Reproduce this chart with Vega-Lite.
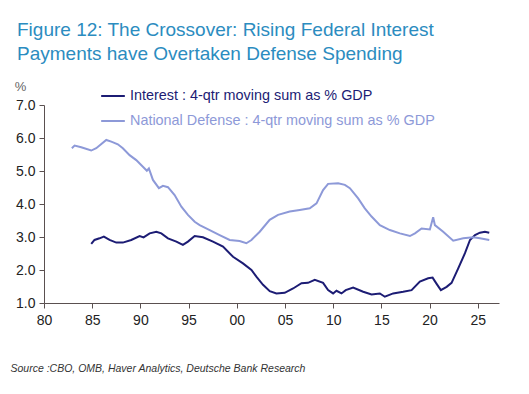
{
  "$schema": "https://vega.github.io/schema/vega-lite/v6.json",
  "width": 455,
  "height": 198,
  "autosize": "none",
  "padding": {"left": 44, "top": 105, "right": 30, "bottom": 91},
  "background": "white",
  "title": {
    "text": ["Figure 12: The Crossover: Rising Federal Interest", "Payments have Overtaken Defense Spending"],
    "anchor": "start",
    "frame": "group",
    "orient": "top",
    "baseline": "top",
    "offset": 16,
    "dx": -27,
    "lineHeight": 24,
    "font": "Liberation Sans",
    "fontSize": 19,
    "fontWeight": "normal",
    "color": "#2b8cc0"
  },
  "config": {
    "view": {"stroke": null},
    "font": "Liberation Sans"
  },
  "data": {
    "values": [
      {"series": "Interest : 4-qtr moving sum as % GDP", "year": 1984.9, "value": 2.79},
      {"series": "Interest : 4-qtr moving sum as % GDP", "year": 1985.24, "value": 2.91},
      {"series": "Interest : 4-qtr moving sum as % GDP", "year": 1985.76, "value": 2.96},
      {"series": "Interest : 4-qtr moving sum as % GDP", "year": 1986.21, "value": 3.01},
      {"series": "Interest : 4-qtr moving sum as % GDP", "year": 1986.8, "value": 2.91},
      {"series": "Interest : 4-qtr moving sum as % GDP", "year": 1987.5, "value": 2.83},
      {"series": "Interest : 4-qtr moving sum as % GDP", "year": 1988.18, "value": 2.83},
      {"series": "Interest : 4-qtr moving sum as % GDP", "year": 1989.05, "value": 2.91},
      {"series": "Interest : 4-qtr moving sum as % GDP", "year": 1989.92, "value": 3.03},
      {"series": "Interest : 4-qtr moving sum as % GDP", "year": 1990.33, "value": 2.99},
      {"series": "Interest : 4-qtr moving sum as % GDP", "year": 1990.96, "value": 3.11},
      {"series": "Interest : 4-qtr moving sum as % GDP", "year": 1991.65, "value": 3.16},
      {"series": "Interest : 4-qtr moving sum as % GDP", "year": 1992.17, "value": 3.11},
      {"series": "Interest : 4-qtr moving sum as % GDP", "year": 1992.86, "value": 2.96},
      {"series": "Interest : 4-qtr moving sum as % GDP", "year": 1993.73, "value": 2.86},
      {"series": "Interest : 4-qtr moving sum as % GDP", "year": 1994.41, "value": 2.76},
      {"series": "Interest : 4-qtr moving sum as % GDP", "year": 1994.93, "value": 2.86},
      {"series": "Interest : 4-qtr moving sum as % GDP", "year": 1995.63, "value": 3.03},
      {"series": "Interest : 4-qtr moving sum as % GDP", "year": 1996.49, "value": 2.99},
      {"series": "Interest : 4-qtr moving sum as % GDP", "year": 1997.53, "value": 2.86},
      {"series": "Interest : 4-qtr moving sum as % GDP", "year": 1998.57, "value": 2.71},
      {"series": "Interest : 4-qtr moving sum as % GDP", "year": 1999.61, "value": 2.4},
      {"series": "Interest : 4-qtr moving sum as % GDP", "year": 2000.64, "value": 2.2},
      {"series": "Interest : 4-qtr moving sum as % GDP", "year": 2001.52, "value": 2.0},
      {"series": "Interest : 4-qtr moving sum as % GDP", "year": 2002.03, "value": 1.8},
      {"series": "Interest : 4-qtr moving sum as % GDP", "year": 2002.72, "value": 1.55},
      {"series": "Interest : 4-qtr moving sum as % GDP", "year": 2003.42, "value": 1.36},
      {"series": "Interest : 4-qtr moving sum as % GDP", "year": 2004.11, "value": 1.29},
      {"series": "Interest : 4-qtr moving sum as % GDP", "year": 2004.97, "value": 1.31},
      {"series": "Interest : 4-qtr moving sum as % GDP", "year": 2005.84, "value": 1.44},
      {"series": "Interest : 4-qtr moving sum as % GDP", "year": 2006.71, "value": 1.6},
      {"series": "Interest : 4-qtr moving sum as % GDP", "year": 2007.39, "value": 1.61},
      {"series": "Interest : 4-qtr moving sum as % GDP", "year": 2008.09, "value": 1.7},
      {"series": "Interest : 4-qtr moving sum as % GDP", "year": 2008.95, "value": 1.61},
      {"series": "Interest : 4-qtr moving sum as % GDP", "year": 2009.47, "value": 1.39},
      {"series": "Interest : 4-qtr moving sum as % GDP", "year": 2009.99, "value": 1.29},
      {"series": "Interest : 4-qtr moving sum as % GDP", "year": 2010.34, "value": 1.37},
      {"series": "Interest : 4-qtr moving sum as % GDP", "year": 2010.86, "value": 1.29},
      {"series": "Interest : 4-qtr moving sum as % GDP", "year": 2011.3, "value": 1.39},
      {"series": "Interest : 4-qtr moving sum as % GDP", "year": 2012.07, "value": 1.47},
      {"series": "Interest : 4-qtr moving sum as % GDP", "year": 2013.11, "value": 1.34},
      {"series": "Interest : 4-qtr moving sum as % GDP", "year": 2013.98, "value": 1.26},
      {"series": "Interest : 4-qtr moving sum as % GDP", "year": 2014.84, "value": 1.29},
      {"series": "Interest : 4-qtr moving sum as % GDP", "year": 2015.36, "value": 1.19},
      {"series": "Interest : 4-qtr moving sum as % GDP", "year": 2016.22, "value": 1.29},
      {"series": "Interest : 4-qtr moving sum as % GDP", "year": 2017.26, "value": 1.34},
      {"series": "Interest : 4-qtr moving sum as % GDP", "year": 2018.13, "value": 1.39},
      {"series": "Interest : 4-qtr moving sum as % GDP", "year": 2018.99, "value": 1.65},
      {"series": "Interest : 4-qtr moving sum as % GDP", "year": 2019.85, "value": 1.75},
      {"series": "Interest : 4-qtr moving sum as % GDP", "year": 2020.31, "value": 1.77},
      {"series": "Interest : 4-qtr moving sum as % GDP", "year": 2020.73, "value": 1.58},
      {"series": "Interest : 4-qtr moving sum as % GDP", "year": 2021.17, "value": 1.39},
      {"series": "Interest : 4-qtr moving sum as % GDP", "year": 2021.77, "value": 1.49},
      {"series": "Interest : 4-qtr moving sum as % GDP", "year": 2022.28, "value": 1.61},
      {"series": "Interest : 4-qtr moving sum as % GDP", "year": 2022.97, "value": 2.05},
      {"series": "Interest : 4-qtr moving sum as % GDP", "year": 2023.67, "value": 2.51},
      {"series": "Interest : 4-qtr moving sum as % GDP", "year": 2024.19, "value": 2.91},
      {"series": "Interest : 4-qtr moving sum as % GDP", "year": 2024.71, "value": 3.06},
      {"series": "Interest : 4-qtr moving sum as % GDP", "year": 2025.22, "value": 3.13},
      {"series": "Interest : 4-qtr moving sum as % GDP", "year": 2025.74, "value": 3.16},
      {"series": "Interest : 4-qtr moving sum as % GDP", "year": 2026.19, "value": 3.13},
      {"series": "National Defense : 4-qtr moving sum as % GDP", "year": 1982.89, "value": 5.69},
      {"series": "National Defense : 4-qtr moving sum as % GDP", "year": 1983.17, "value": 5.77},
      {"series": "National Defense : 4-qtr moving sum as % GDP", "year": 1983.86, "value": 5.72},
      {"series": "National Defense : 4-qtr moving sum as % GDP", "year": 1984.9, "value": 5.62},
      {"series": "National Defense : 4-qtr moving sum as % GDP", "year": 1985.42, "value": 5.69},
      {"series": "National Defense : 4-qtr moving sum as % GDP", "year": 1986.46, "value": 5.94},
      {"series": "National Defense : 4-qtr moving sum as % GDP", "year": 1986.98, "value": 5.89},
      {"series": "National Defense : 4-qtr moving sum as % GDP", "year": 1987.66, "value": 5.81},
      {"series": "National Defense : 4-qtr moving sum as % GDP", "year": 1988.18, "value": 5.69},
      {"series": "National Defense : 4-qtr moving sum as % GDP", "year": 1988.88, "value": 5.48},
      {"series": "National Defense : 4-qtr moving sum as % GDP", "year": 1989.57, "value": 5.33},
      {"series": "National Defense : 4-qtr moving sum as % GDP", "year": 1990.26, "value": 5.13},
      {"series": "National Defense : 4-qtr moving sum as % GDP", "year": 1990.67, "value": 5.01},
      {"series": "National Defense : 4-qtr moving sum as % GDP", "year": 1990.88, "value": 5.08},
      {"series": "National Defense : 4-qtr moving sum as % GDP", "year": 1991.3, "value": 4.73},
      {"series": "National Defense : 4-qtr moving sum as % GDP", "year": 1991.92, "value": 4.48},
      {"series": "National Defense : 4-qtr moving sum as % GDP", "year": 1992.34, "value": 4.55},
      {"series": "National Defense : 4-qtr moving sum as % GDP", "year": 1992.86, "value": 4.51},
      {"series": "National Defense : 4-qtr moving sum as % GDP", "year": 1993.55, "value": 4.27},
      {"series": "National Defense : 4-qtr moving sum as % GDP", "year": 1994.25, "value": 3.92},
      {"series": "National Defense : 4-qtr moving sum as % GDP", "year": 1994.93, "value": 3.67},
      {"series": "National Defense : 4-qtr moving sum as % GDP", "year": 1995.63, "value": 3.46},
      {"series": "National Defense : 4-qtr moving sum as % GDP", "year": 1996.15, "value": 3.36},
      {"series": "National Defense : 4-qtr moving sum as % GDP", "year": 1997.19, "value": 3.21},
      {"series": "National Defense : 4-qtr moving sum as % GDP", "year": 1998.22, "value": 3.06},
      {"series": "National Defense : 4-qtr moving sum as % GDP", "year": 1999.26, "value": 2.91},
      {"series": "National Defense : 4-qtr moving sum as % GDP", "year": 2000.29, "value": 2.88},
      {"series": "National Defense : 4-qtr moving sum as % GDP", "year": 2000.99, "value": 2.81},
      {"series": "National Defense : 4-qtr moving sum as % GDP", "year": 2001.52, "value": 2.91},
      {"series": "National Defense : 4-qtr moving sum as % GDP", "year": 2002.38, "value": 3.16},
      {"series": "National Defense : 4-qtr moving sum as % GDP", "year": 2003.41, "value": 3.52},
      {"series": "National Defense : 4-qtr moving sum as % GDP", "year": 2004.28, "value": 3.67},
      {"series": "National Defense : 4-qtr moving sum as % GDP", "year": 2005.49, "value": 3.77},
      {"series": "National Defense : 4-qtr moving sum as % GDP", "year": 2006.53, "value": 3.82},
      {"series": "National Defense : 4-qtr moving sum as % GDP", "year": 2007.57, "value": 3.87},
      {"series": "National Defense : 4-qtr moving sum as % GDP", "year": 2008.27, "value": 4.02},
      {"series": "National Defense : 4-qtr moving sum as % GDP", "year": 2008.95, "value": 4.42},
      {"series": "National Defense : 4-qtr moving sum as % GDP", "year": 2009.47, "value": 4.61},
      {"series": "National Defense : 4-qtr moving sum as % GDP", "year": 2010.51, "value": 4.63},
      {"series": "National Defense : 4-qtr moving sum as % GDP", "year": 2011.21, "value": 4.58},
      {"series": "National Defense : 4-qtr moving sum as % GDP", "year": 2011.73, "value": 4.48},
      {"series": "National Defense : 4-qtr moving sum as % GDP", "year": 2012.59, "value": 4.17},
      {"series": "National Defense : 4-qtr moving sum as % GDP", "year": 2013.28, "value": 3.87},
      {"series": "National Defense : 4-qtr moving sum as % GDP", "year": 2013.98, "value": 3.62},
      {"series": "National Defense : 4-qtr moving sum as % GDP", "year": 2014.84, "value": 3.36},
      {"series": "National Defense : 4-qtr moving sum as % GDP", "year": 2015.88, "value": 3.21},
      {"series": "National Defense : 4-qtr moving sum as % GDP", "year": 2016.92, "value": 3.11},
      {"series": "National Defense : 4-qtr moving sum as % GDP", "year": 2017.96, "value": 3.03},
      {"series": "National Defense : 4-qtr moving sum as % GDP", "year": 2018.48, "value": 3.11},
      {"series": "National Defense : 4-qtr moving sum as % GDP", "year": 2019.17, "value": 3.26},
      {"series": "National Defense : 4-qtr moving sum as % GDP", "year": 2020.03, "value": 3.23},
      {"series": "National Defense : 4-qtr moving sum as % GDP", "year": 2020.37, "value": 3.6},
      {"series": "National Defense : 4-qtr moving sum as % GDP", "year": 2020.55, "value": 3.36},
      {"series": "National Defense : 4-qtr moving sum as % GDP", "year": 2021.41, "value": 3.16},
      {"series": "National Defense : 4-qtr moving sum as % GDP", "year": 2022.45, "value": 2.89},
      {"series": "National Defense : 4-qtr moving sum as % GDP", "year": 2023.49, "value": 2.96},
      {"series": "National Defense : 4-qtr moving sum as % GDP", "year": 2024.53, "value": 2.99},
      {"series": "National Defense : 4-qtr moving sum as % GDP", "year": 2025.22, "value": 2.96},
      {"series": "National Defense : 4-qtr moving sum as % GDP", "year": 2026.19, "value": 2.91}
    ]
  },
  "mark": {"type": "line", "strokeWidth": 2, "clip": true},
  "encoding": {
    "x": {
      "field": "year",
      "type": "quantitative",
      "scale": {"domain": [1980, 2027.2], "nice": false, "zero": false},
      "axis": {
        "values": [1980, 1985, 1990, 1995, 2000, 2005, 2010, 2015, 2020, 2025],
        "labelExpr": "format(datum.value % 100, '02d')",
        "grid": false,
        "domainColor": "#5a5050",
        "tickColor": "#5a5050",
        "tickSize": 5,
        "labelFontSize": 14,
        "labelColor": "#222",
        "labelPadding": 5,
        "labelFlush": false,
        "title": "Source :CBO, OMB, Haver Analytics, Deutsche Bank Research",
        "titleX": -34,
        "titleY": 68,
        "titleAlign": "left",
        "titleBaseline": "alphabetic",
        "titleFontStyle": "italic",
        "titleFontWeight": "normal",
        "titleFontSize": 10.5,
        "titleColor": "#333"
      }
    },
    "y": {
      "field": "value",
      "type": "quantitative",
      "scale": {"domain": [1, 7], "nice": false, "zero": false},
      "axis": {
        "values": [1, 2, 3, 4, 5, 6, 7],
        "format": ".1f",
        "grid": false,
        "domainColor": "#5a5050",
        "tickColor": "#5a5050",
        "tickSize": 5,
        "labelFontSize": 14,
        "labelColor": "#222",
        "labelPadding": 4,
        "labelFlush": false,
        "title": "%",
        "titleAngle": 0,
        "titleX": -24,
        "titleY": -19,
        "titleAlign": "center",
        "titleBaseline": "middle",
        "titleFontWeight": "normal",
        "titleFontSize": 13,
        "titleColor": "#666"
      }
    },
    "color": {
      "field": "series",
      "type": "nominal",
      "scale": {
        "domain": ["Interest : 4-qtr moving sum as % GDP", "National Defense : 4-qtr moving sum as % GDP"],
        "range": ["#1c1c74", "#8d99d8"]
      },
      "legend": {
        "title": null,
        "orient": "none",
        "legendX": 56,
        "legendY": -22,
        "symbolType": "stroke",
        "symbolSize": 560,
        "symbolStrokeWidth": 2,
        "rowPadding": 5,
        "labelOffset": 4,
        "labelFontSize": 14.4,
        "labelLimit": 400,
        "encode": {
          "labels": {"update": {"fill": {"scale": "color", "field": "value"}}}
        }
      }
    }
  }
}
